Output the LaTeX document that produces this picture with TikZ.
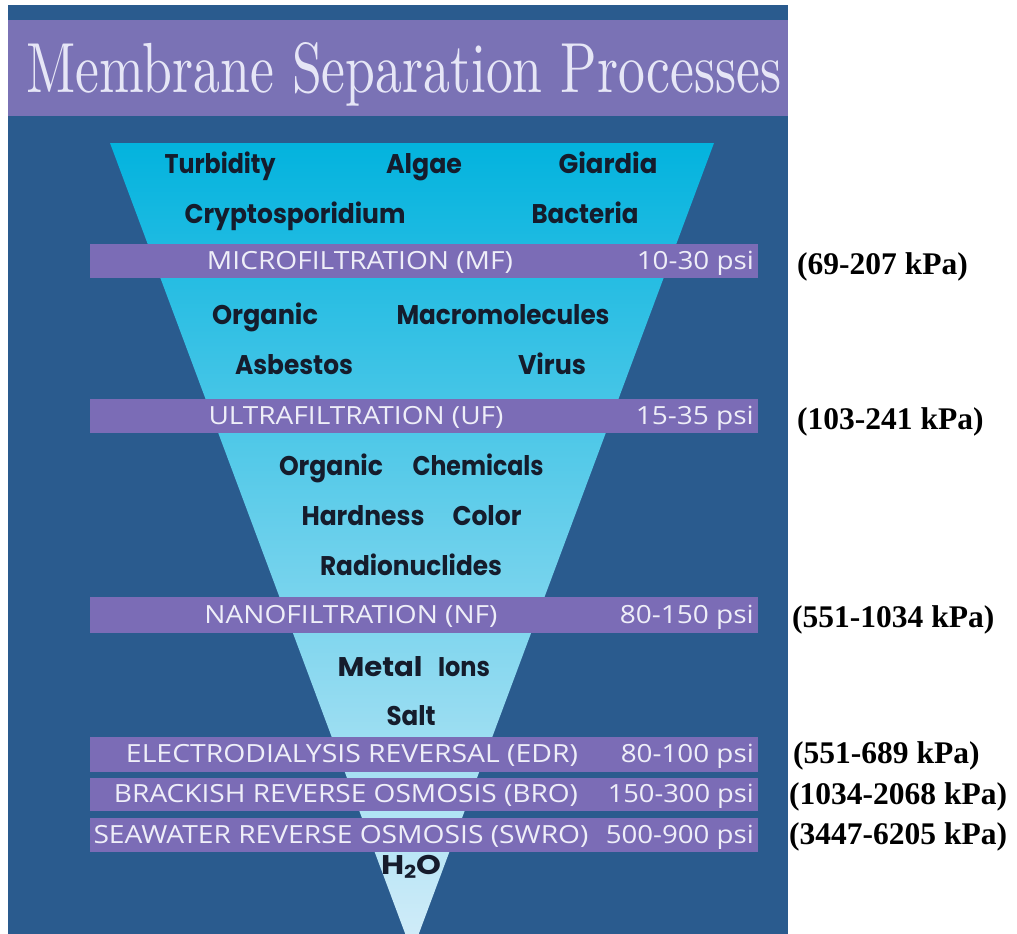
\documentclass[tikz,border=0pt]{standalone}
\usepackage{fontspec}
\usepackage{graphicx}
\newfontfamily\barfont{Open Sans}
\newfontfamily\itemfont{Poppins}
\newfontfamily\kpafont{Liberation Serif}
\definecolor{panel}{HTML}{2A5B8E}
\definecolor{titlebar}{HTML}{7A72B5}
\definecolor{barcol}{HTML}{7B6CB6}
\definecolor{funtop}{HTML}{03B3DE}
\definecolor{funmid}{HTML}{62C2E8}
\definecolor{funbot}{HTML}{D4EDF9}
\definecolor{itemtext}{HTML}{151C2C}
\definecolor{bartext}{HTML}{EEEEF8}
\definecolor{titletext}{HTML}{E6E6F6}
\newcommand\fitw[2]{\resizebox{#1pt}{\height}{#2}}
\begin{document}
\begin{tikzpicture}[x=1pt,y=-1pt,
  item/.style={inner sep=0pt, anchor=base, text=itemtext, font=\itemfont\bfseries\fontsize{27}{27}\selectfont},
  bartxt/.style={inner sep=0pt, anchor=base, text=bartext, font=\barfont\fontsize{25}{25}\selectfont},
  bartxtr/.style={bartxt, anchor=base east},
  kpa/.style={inner sep=0pt, anchor=base west, text=black, font=\kpafont\bfseries\fontsize{31.5}{31.5}\selectfont},
  barbox/.style={fill=barcol}]
\useasboundingbox (0,0) rectangle (1017,934);
\fill[white] (0,0) rectangle (1017,934);
% panel
\fill[panel] (8,5) rectangle (788,934);
% title bar
\fill[titlebar] (8,20) rectangle (788,116);
\node[inner sep=0pt, anchor=base, text=titletext] (title) at (404,92)
  {\resizebox{755pt}{50pt}{Membrane Separation Processes}};
% funnel
\begin{scope}
\clip (8,5) rectangle (788,934);
\shade[top color=funtop, middle color=funmid, bottom color=funbot]
  (110,143) -- (714,143) -- (412,952) -- cycle;
\end{scope}
% bars
\fill[barbox] (90,244) rectangle (758,278);
\fill[barbox] (90,399) rectangle (758,433);
\fill[barbox] (90,597) rectangle (758,633);
\fill[barbox] (90,737) rectangle (758,772);
\fill[barbox] (90,778) rectangle (758,811);
\fill[barbox] (90,818) rectangle (758,852);
% bar labels
\node[bartxt] (mf) at (360,269) {\fitw{306}{MICROFILTRATION (MF)}};
\node[bartxtr] (mfp) at (754,269) {\fitw{117}{10-30 psi}};
\node[bartxt] (uf) at (356,424) {\fitw{295}{ULTRAFILTRATION (UF)}};
\node[bartxtr] (ufp) at (754,424) {\fitw{118}{15-35 psi}};
\node[bartxt] (nf) at (351,623) {\fitw{293}{NANOFILTRATION (NF)}};
\node[bartxtr] (nfp) at (754,623) {\fitw{134}{80-150 psi}};
\node[bartxt] (edr) at (352,762) {\fitw{452}{ELECTRODIALYSIS REVERSAL (EDR)}};
\node[bartxtr] (edrp) at (754,762) {\fitw{133}{80-100 psi}};
\node[bartxt] (bro) at (346,802) {\fitw{464}{BRACKISH REVERSE OSMOSIS (BRO)}};
\node[bartxtr] (brop) at (754,802) {\fitw{146}{150-300 psi}};
\node[bartxt] (swro) at (341,843) {\fitw{495}{SEAWATER REVERSE OSMOSIS (SWRO)}};
\node[bartxtr] (swrop) at (754,843) {\fitw{148}{500-900 psi}};
% funnel items
\node[item] (turb) at (220,173) {\fitw{111}{Turbidity}};
\node[item] (alg) at (424,173) {\fitw{76}{Algae}};
\node[item] (giar) at (608,173) {\fitw{99}{Giardia}};
\node[item] (crypt) at (295,223) {\fitw{221}{Cryptosporidium}};
\node[item] (bact) at (585,223) {\fitw{107}{Bacteria}};
\node[item] (org) at (265,324) {\fitw{106}{Organic}};
\node[item] (macro) at (503,324) {\fitw{213}{Macromolecules}};
\node[item] (asb) at (294,374) {\fitw{118}{Asbestos}};
\node[item] (vir) at (552,374) {\fitw{68}{Virus}};
\node[item] (org2) at (331,475) {\fitw{104}{Organic}};
\node[item] (chem) at (478,475) {\fitw{131}{Chemicals}};
\node[item] (hard) at (363,525) {\fitw{123}{Hardness}};
\node[item] (col) at (487,525) {\fitw{69}{Color}};
\node[item] (radio) at (411,575) {\fitw{182}{Radionuclides}};
\node[item] (metal) at (380,676) {\fitw{85}{Metal}};
\node[item] (ions) at (464,676) {\fitw{52}{Ions}};
\node[item] (salt) at (411,725) {\fitw{49}{Salt}};
\node[item] (water) at (411,874) {\fitw{60}{H\raisebox{-0.3ex}{\fontsize{18}{18}\selectfont 2}O}};
% kPa labels
\node[kpa] (k1) at (797,274) {(69-207 kPa)};
\node[kpa] (k2) at (797,429) {(103-241 kPa)};
\node[kpa] (k3) at (792,627) {(551-1034 kPa)};
\node[kpa] (k4) at (793,763) {(551-689 kPa)};
\node[kpa] (k5) at (789,804) {(1034-2068 kPa)};
\node[kpa] (k6) at (789,844) {(3447-6205 kPa)};
\end{tikzpicture}
\end{document}
